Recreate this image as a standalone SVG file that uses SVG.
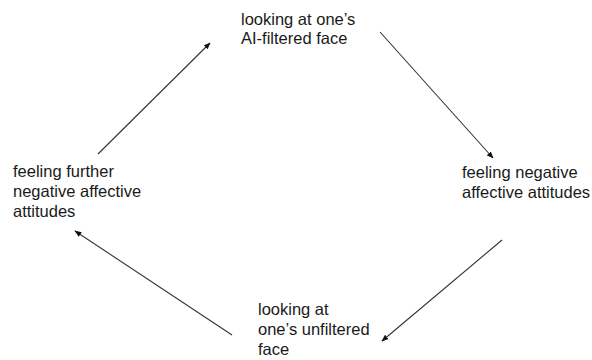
<svg xmlns="http://www.w3.org/2000/svg" width="592" height="360" viewBox="0 0 592 360">
<style>
text{font-family:"Liberation Sans",Arial,sans-serif;font-size:16.5px;fill:#1a1a1a}
.c{stroke:#333;stroke-width:1.1;fill:none;marker-end:url(#ah)}
</style>
<defs>
<marker id="ah" viewBox="0 0 10 10" refX="9" refY="5" markerWidth="7" markerHeight="7" markerUnits="userSpaceOnUse" orient="auto">
<path d="M0,1 L10,5 L0,9 Z" fill="#111"/>
</marker>
</defs>
<rect width="592" height="360" fill="#fff"/>
<g id="n-top"><text x="241" y="25">looking at one’s</text><text x="241" y="44">AI-filtered face</text></g>
<g id="n-right"><text x="462" y="178">feeling negative</text><text x="462" y="198">affective attitudes</text></g>
<g id="n-bottom"><text x="258" y="315">looking at</text><text x="258" y="335">one’s unfiltered</text><text x="258" y="355">face</text></g>
<g id="n-left"><text x="13" y="177">feeling further</text><text x="13" y="197">negative affective</text><text x="13" y="217">attitudes</text></g>
<g id="connectors">
<line class="c" x1="380" y1="32" x2="493" y2="158"/>
<line class="c" x1="502" y1="240" x2="382" y2="341"/>
<line class="c" x1="232" y1="335" x2="75" y2="231"/>
<line class="c" x1="98" y1="154" x2="210" y2="43"/>
</g>
</svg>
